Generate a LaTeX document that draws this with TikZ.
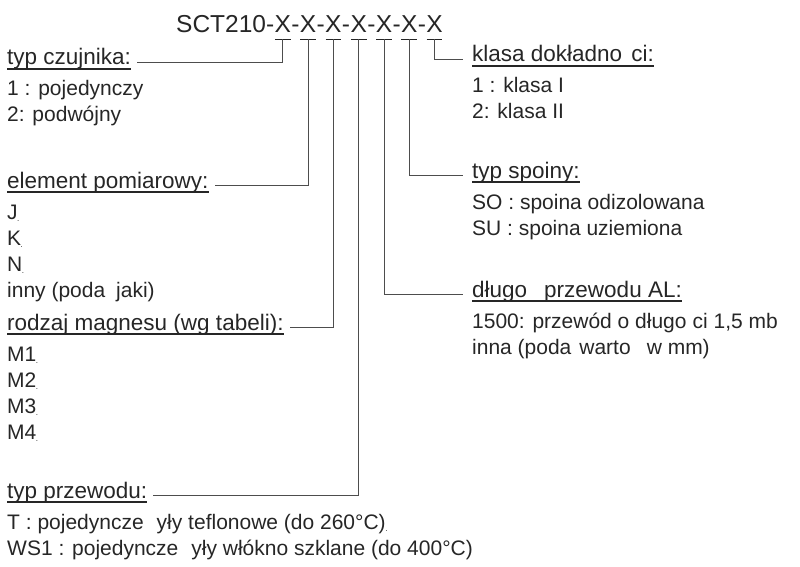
\documentclass[tikz,border=0pt]{standalone}
\usepackage{fontspec}
\setmainfont{Liberation Sans}
\usetikzlibrary{positioning}

\definecolor{ink}{HTML}{262626}
\definecolor{wire}{HTML}{4d4d4d}

% small mark left after some of the list entries
\newcommand{\stub}{\kern-0.5pt\raisebox{-2pt}{\fontsize{8}{8}\selectfont.}}

\tikzset{
  item/.style={anchor=base west, inner sep=0pt, text=ink, font=\fontsize{21}{21}\selectfont},
  hdr/.style={item, font=\fontsize{22.5}{22.5}\selectfont},
  code/.style={inner sep=0pt, text=ink, font=\fontsize{24.5}{24.5}\selectfont},
  wire/.style={draw=wire, line width=0.9pt},
  uline/.style={draw=ink, line width=1.9pt},
}

\begin{document}
\begin{tikzpicture}[x=1pt,y=-1pt]
\useasboundingbox (0,0) rectangle (800,567);

% order code
\node[code, anchor=base west] at (176,33) (sct) {SCT210-};
\node[code, base right=0pt of sct] (x1) {X};
\foreach \i [count=\j from 2] in {1,...,6} {
  \node[code, base right=0pt of x\i] (d\i) {-};
  \node[code, base right=0pt of d\i] (x\j) {X};
}
\foreach \i in {1,...,7} {
  \draw[uline, shorten <=0.5pt, shorten >=0.5pt] ([yshift=-6.5pt]x\i.base west) -- ([yshift=-6.5pt]x\i.base east);
  \coordinate (u\i) at ([yshift=-6.5pt]x\i.base);
}

% left column
\node[hdr] at (7,65) (czujnik) {typ czujnika:};
\node[item] at (7,96) (czujnik1) {1 : pojedynczy};
\node[item] at (7,122) (czujnik2) {2: podwójny};

\node[hdr] at (7,188) (element) {element pomiarowy:};
\node[item] at (7,219) (elemJ) {J\stub};
\node[item] at (7,245) (elemK) {K\stub};
\node[item] at (7,271) (elemN) {N\stub};
\node[item] at (7,297) (elemX) {inny (poda\hspace{11pt}jaki)};

\node[hdr] at (7,330) (magnes) {rodzaj magnesu (wg tabeli):};
\node[item] at (7,361) (magnes1) {M1\stub};
\node[item] at (7,387) (magnes2) {M2\stub};
\node[item] at (7,413) (magnes3) {M3\stub};
\node[item] at (7,439) (magnes4) {M4\stub};

\node[hdr] at (7,498) (przewod) {typ przewodu:};
\node[item] at (7,529) (przewodT) {T : pojedyncze\hspace{13pt}yły teflonowe (do 260°C)\stub};
\node[item] at (7,555) (przewodW) {WS1 : pojedyncze\hspace{13pt}yły włókno szklane (do 400°C)};

% right column
\node[hdr] at (472,62) (klasa) {klasa dokładno\hspace{9pt}ci:};
\node[item] at (472,93) (klasa1) {1 : klasa I};
\node[item] at (472,119) (klasa2) {2: klasa II};

\node[hdr] at (472,178) (spoina) {typ spoiny:};
\node[item] at (472,209) (spoinaSO) {SO : spoina odizolowana};
\node[item] at (472,235) (spoinaSU) {SU : spoina uziemiona};

\node[hdr] at (472,297) (dlugosc) {długo\hspace{17pt}przewodu AL:};
\node[item] at (472,328) (dlugosc1) {1500: przewód o długo\hspace{6pt}ci 1,5 mb};
\node[item] at (472,354) (dlugosc2) {inna (poda\hspace{8pt}warto\hspace{16pt}w mm)};

\foreach \h in {czujnik,element,magnes,przewod,klasa,spoina,dlugosc}
  \draw[uline] ([yshift=-4pt]\h.base west) -- ([yshift=-4pt]\h.base east);

% leaders from the code positions
\draw[wire, shorten >=6pt] (u1) |- (czujnik.mid east);
\draw[wire, shorten >=6pt] (u2) |- (element.mid east);
\draw[wire, shorten >=6pt] (u3) |- (magnes.mid east);
\draw[wire, shorten >=6pt] (u4) |- (przewod.mid east);
\draw[wire, shorten >=9pt] (u5) |- (dlugosc.mid west);
\draw[wire, shorten >=9pt] (u6) |- (spoina.mid west);
\draw[wire, shorten >=9pt] (u7) |- (klasa.mid west);

\end{tikzpicture}
\end{document}
